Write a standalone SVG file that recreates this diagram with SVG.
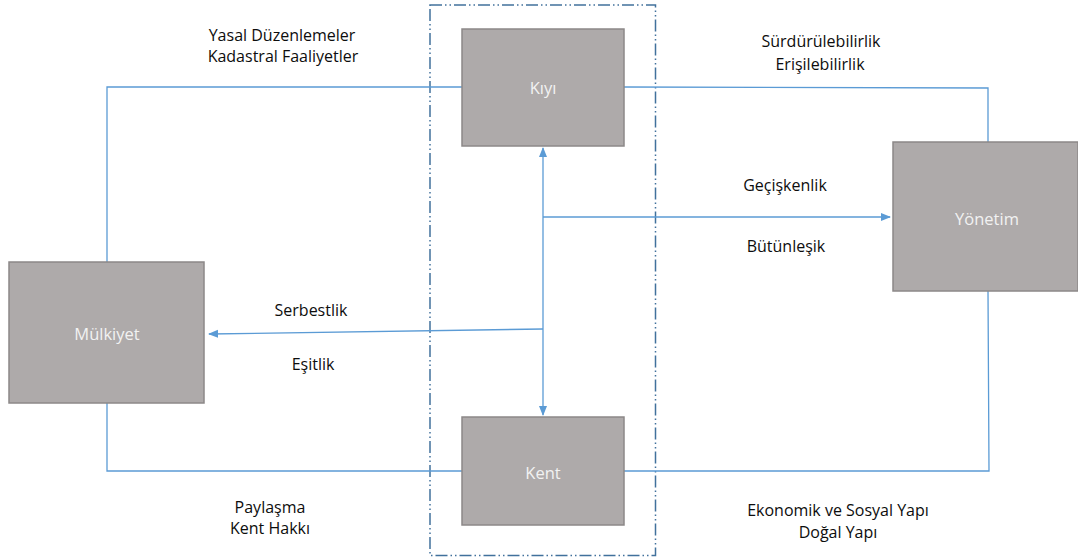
<svg xmlns="http://www.w3.org/2000/svg" width="1078" height="560" viewBox="0 0 1078 560">
<defs>
<marker id="arr" viewBox="0 0 10 10" refX="9" refY="5" markerWidth="10" markerHeight="10" markerUnits="userSpaceOnUse" orient="auto">
<path d="M0,1 L10,5 L0,9 z" fill="#5B9BD5"/>
</marker>
</defs>
<style>
.box{fill:#AEAAAA;stroke:#8C8888;stroke-width:1.5}
.bl{font-family:"Open Sans","Noto Sans",sans-serif;font-size:16.5px;fill:#F2F2F2;text-anchor:middle}
.lb{font-family:"Open Sans","Noto Sans",sans-serif;font-size:16px;fill:#0D0D0D;text-anchor:middle}
.ln{fill:none;stroke:#5B9BD5;stroke-width:1.3}
.dash{fill:none;stroke:#41719C;stroke-width:1.5;stroke-dasharray:12 3 1.5 3 1.5 3}
</style>
<rect class="dash" x="430" y="5" width="225.5" height="550.5"/>
<g id="connectors">
<polyline class="ln" points="107,262 107,87 462,87"/>
<polyline class="ln" points="624,87 988,88 988,142"/>
<polyline class="ln" points="107,403 107,471 462,471"/>
<polyline class="ln" points="624,471 989,471 988,291"/>
<line class="ln" x1="543" y1="217" x2="543" y2="148" marker-end="url(#arr)"/>
<line class="ln" x1="543" y1="217" x2="543" y2="415" marker-end="url(#arr)"/>
<line class="ln" x1="543" y1="217" x2="890" y2="217" marker-end="url(#arr)"/>
<line class="ln" x1="543" y1="329" x2="209" y2="334" marker-end="url(#arr)"/>
</g>
<g id="kiyi">
<rect class="box" x="462" y="29" width="162" height="117"/>
<text class="bl" x="543" y="94">Kıyı</text>
</g>
<g id="kent">
<rect class="box" x="462" y="417" width="162" height="108"/>
<text class="bl" x="543" y="479">Kent</text>
</g>
<g id="mulkiyet">
<rect class="box" x="9" y="262" width="195" height="141"/>
<text class="bl" x="107" y="340">Mülkiyet</text>
</g>
<g id="yonetim">
<rect class="box" x="893" y="142" width="185" height="149"/>
<text class="bl" x="987" y="225">Yönetim</text>
</g>
<g id="labels">
<text class="lb" x="282" y="41">Yasal Düzenlemeler</text>
<text class="lb" x="283" y="62">Kadastral Faaliyetler</text>
<text class="lb" x="821" y="47">Sürdürülebilirlik</text>
<text class="lb" x="820" y="70">Erişilebilirlik</text>
<text class="lb" x="785" y="191">Geçişkenlik</text>
<text class="lb" x="786" y="252">Bütünleşik</text>
<text class="lb" x="311" y="316">Serbestlik</text>
<text class="lb" x="313" y="370">Eşitlik</text>
<text class="lb" x="270" y="513">Paylaşma</text>
<text class="lb" x="270" y="534">Kent Hakkı</text>
<text class="lb" x="838" y="516">Ekonomik ve Sosyal Yapı</text>
<text class="lb" x="838" y="538">Doğal Yapı</text>
</g>
</svg>
